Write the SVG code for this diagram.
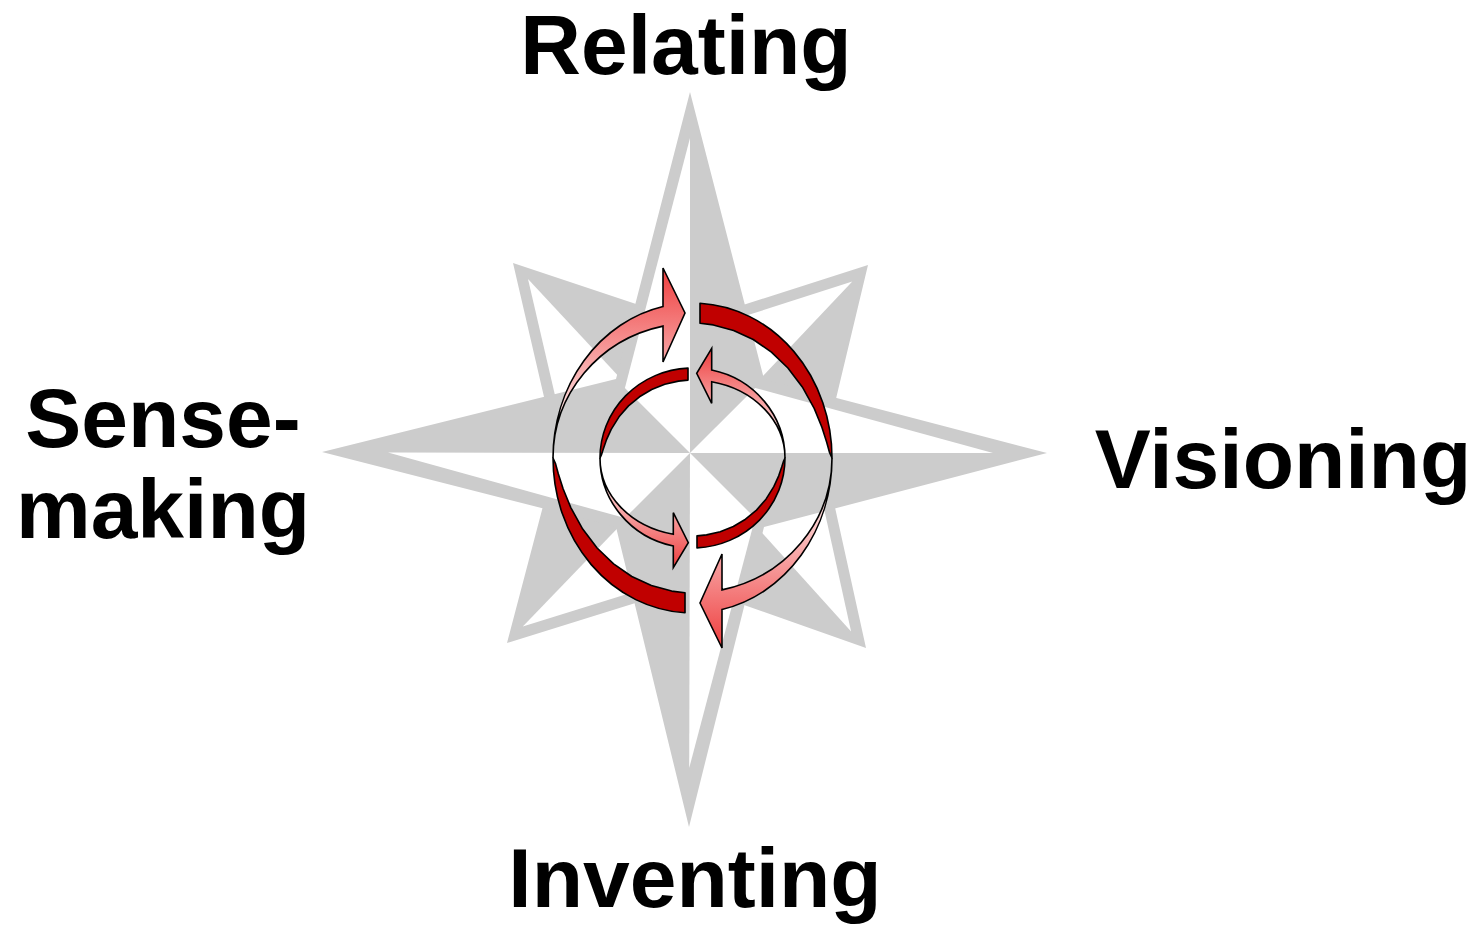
<svg xmlns="http://www.w3.org/2000/svg" width="1483" height="927" viewBox="0 0 1483 927">
<style>
.star{fill:#cccccc;stroke:none}
.hole{fill:#ffffff;stroke:none}
.dark{fill:#c00000;stroke:#000000;stroke-width:1.6;stroke-linejoin:round}
.arr{stroke:#000000;stroke-width:1.6;stroke-linejoin:miter}
.lbl{font-family:"Liberation Sans",Arial,sans-serif;font-weight:bold;font-size:84px;fill:#000000;text-anchor:middle}
</style>
<defs>
<linearGradient id="gTL" gradientUnits="userSpaceOnUse" x1="0" y1="266" x2="0" y2="440"><stop offset="0" stop-color="#ee3b3b"/><stop offset="1" stop-color="#ffffff"/></linearGradient>
<linearGradient id="gBR" gradientUnits="userSpaceOnUse" x1="0" y1="650" x2="0" y2="476"><stop offset="0" stop-color="#ee3b3b"/><stop offset="1" stop-color="#ffffff"/></linearGradient>
<linearGradient id="gTR" gradientUnits="userSpaceOnUse" x1="0" y1="347" x2="0" y2="452"><stop offset="0" stop-color="#ee3b3b"/><stop offset="1" stop-color="#ffffff"/></linearGradient>
<linearGradient id="gBL" gradientUnits="userSpaceOnUse" x1="0" y1="569" x2="0" y2="464"><stop offset="0" stop-color="#ee3b3b"/><stop offset="1" stop-color="#ffffff"/></linearGradient>
</defs>
<rect width="1483" height="927" fill="#ffffff"/>
<g id="compass">
<polygon class="star" points="513,263 690,322 868,265 823,453 866,648 690,586 507,643 557,453"/>
<polygon class="hole" points="528.0,279.1 690,453 557.6,406.6"/>
<polygon class="hole" points="852.3,281.6 690,453 735.2,319.1"/>
<polygon class="hole" points="851.1,631.5 690,453 821.9,499.0"/>
<polygon class="hole" points="522.8,626.5 690,453 644.1,588.8"/>
<polygon class="star" points="690,92 764,379 1047,453 764,527 689,827 616,527 322,452 616,379"/>
<polygon class="hole" points="690,138 690,453 624.9,387.9"/>
<polygon class="hole" points="993,453 690,453 755.1,387.9"/>
<polygon class="hole" points="689.2,768 690,453 755.1,518.1"/>
<polygon class="hole" points="388,452.5 690,453 624.9,518.1"/>
</g>
<g id="cycle-arrows">
<path id="outer-tl" class="arr" fill="url(#gTL)" d="M553,458 A139.5,155 0 0 1 663,306.5 L663,268 L685,313 L663,362 L663,326.1 A139.5,135 0 0 0 553,458 Z"/>
<path id="outer-br" class="arr" fill="url(#gBR)" d="M832,458 A139.5,155 0 0 1 722,609.5 L722,648 L700,603 L722,554 L722,589.9 A139.5,135 0 0 0 832,458 Z"/>
<path id="outer-tr" class="dark" d="M700,303.2 A139.5,155 0 0 1 832,458 L829.6,452.7 L826.7,442.3 L821.9,427.3 L814.2,408.4 L802.3,386.9 L787.9,368.0 L771.4,352.1 L753.2,339.5 L733.6,330.4 L713.3,324.9 L700,323.2 Z"/>
<path id="outer-bl" class="dark" d="M685,612.8 A139.5,155 0 0 1 553,458 L555.4,463.3 L558.3,473.7 L563.1,488.7 L570.8,507.6 L582.7,529.1 L597.1,548.0 L613.6,563.9 L631.8,576.5 L651.4,585.6 L671.7,591.1 L685,592.8 Z"/>
<path id="inner-tr" class="arr" fill="url(#gTR)" d="M785,458 A92.5,90 0 0 0 711.7,370 L711.7,348.3 L696.7,373.3 L711.7,403.3 L711.7,381.7 A92.5,78 0 0 1 785,458 Z"/>
<path id="inner-bl" class="arr" fill="url(#gBL)" d="M600,458 A92.5,90 0 0 0 673.3,546 L673.3,567.7 L688.3,542.7 L673.3,512.7 L673.3,534.3 A92.5,78 0 0 1 600,458 Z"/>
<path id="inner-tl" class="dark" d="M688,368.1 A92.5,90 0 0 0 600,458 L601.4,454.9 L603.3,448.9 L606.3,440.2 L611.2,429.3 L619.0,416.8 L628.5,405.9 L639.5,396.8 L651.7,389.5 L664.8,384.3 L678.5,381.1 L688,380.1 Z"/>
<path id="inner-br" class="dark" d="M697,547.9 A92.5,90 0 0 0 785,458 L783.6,461.1 L781.7,467.1 L778.7,475.8 L773.8,486.7 L766.0,499.2 L756.5,510.1 L745.5,519.2 L733.3,526.5 L720.2,531.7 L706.5,534.9 L697,535.9 Z"/>
</g>
<g id="label-relating"><text class="lbl" x="686" y="74">Relating</text></g>
<g id="label-visioning"><text class="lbl" x="1283" y="488">Visioning</text></g>
<g id="label-sensemaking"><text class="lbl" x="163" y="447">Sense-</text><text class="lbl" x="163" y="538">making</text></g>
<g id="label-inventing"><text class="lbl" x="695" y="907">Inventing</text></g>
</svg>
